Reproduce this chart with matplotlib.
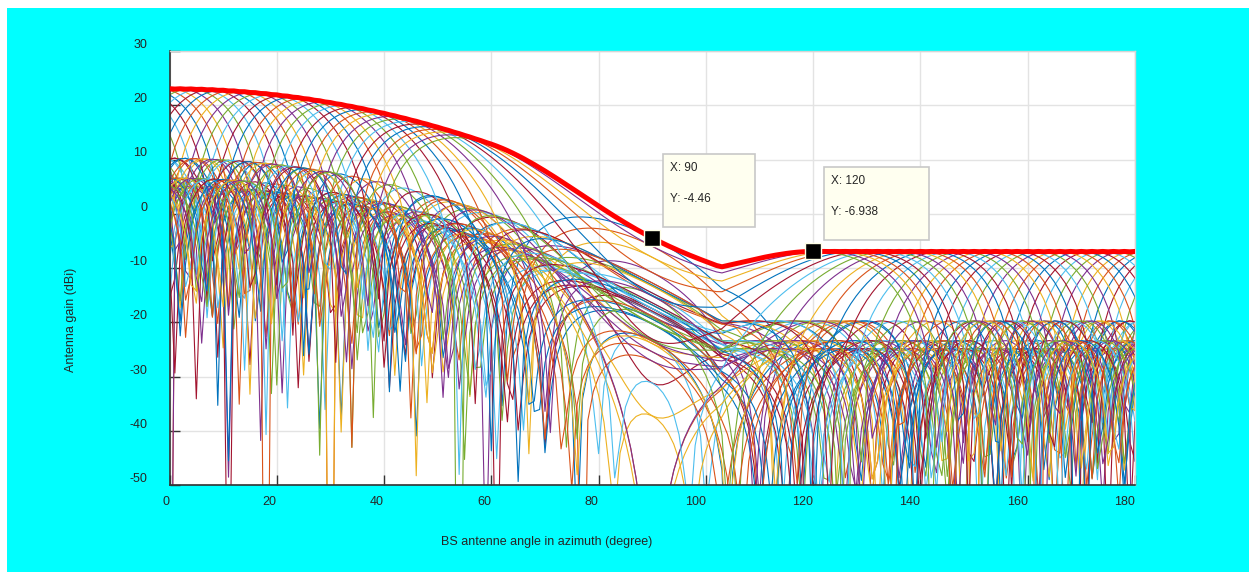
import numpy as np
import matplotlib
matplotlib.use("Agg")
import matplotlib.pyplot as plt
from matplotlib.patches import Rectangle

plt.rcParams['font.family'] = ['Liberation Sans', 'DejaVu Sans']
plt.rcParams['axes.unicode_minus'] = False

# ---------------- data / parameters ----------------
azimuth_deg = np.arange(0, 181, 1)              # sampled azimuth angles
steer_deg = list(range(-60, 61, 2))            # beam steering angles
n_horizontal = 8                               # elements in a row
n_total = 32                                   # total elements in panel
elem_gmax = 8.0                                # element max gain (dBi)
elem_hpbw = 65.0                               # element 3 dB beamwidth (deg)
elem_amax = 30.0                               # front-to-back attenuation (dB)

tip_x = [90, 120]
tip_y = [-4.46, -6.938]
tip_text_x = ["X: 90", "X: 120"]
tip_text_y = ["Y: -4.46", "Y: -6.938"]

x_ticks = [0, 20, 40, 60, 80, 100, 120, 140, 160, 180]
y_ticks = [-50, -40, -30, -20, -10, 0, 10, 20, 30]
x_label = "BS antenne angle in azimuth (degree)"
y_label = "Antenna gain (dBi)"

# ---------------- patterns ----------------
az = np.asarray(azimuth_deg, dtype=float)
elem = elem_gmax - np.minimum(12.0 * (az / elem_hpbw) ** 2, elem_amax)
array_gain = 10 * np.log10(n_total)
patterns = []
for s in steer_deg:
    psi = np.pi * (np.sin(np.radians(az)) - np.sin(np.radians(s)))
    num = np.sin(n_horizontal * psi / 2)
    den = n_horizontal * np.sin(psi / 2)
    with np.errstate(divide='ignore', invalid='ignore'):
        af = np.where(np.abs(den) < 1e-12, 1.0, num / den)
    g = elem + array_gain + 20 * np.log10(np.abs(af) + 1e-9)
    patterns.append(np.maximum(g, -120))
patterns = np.array(patterns)
envelope = patterns.max(axis=0)

# ---------------- figure ----------------
W, H = 1249, 572
fig = plt.figure(figsize=(W / 100, H / 100), dpi=100)
fig.patch.set_facecolor('white')
fig.patches.append(Rectangle((7 / W, 0), 1 - 7 / W, (H - 8) / H,
                             transform=fig.transFigure, facecolor='#00FFFF',
                             edgecolor='none', zorder=-10))

ax_l, ax_r, ax_t, ax_b = 169.5, 1135.0, 51.0, 485.0
ax = fig.add_axes([ax_l / W, 1 - ax_b / H, (ax_r - ax_l) / W, (ax_b - ax_t) / H])
ax.set_facecolor('white')

colors = ['#0072BD', '#D95319', '#EDB120', '#7E2F8E', '#77AC30', '#4DBEEE', '#A2142F']
for i, g in enumerate(patterns):
    ax.plot(az, g, color=colors[i % len(colors)], lw=0.8, zorder=2)

ax.plot(az, envelope, color='#FF0000', lw=3.6, zorder=5, solid_joinstyle='round')
ax.plot(tip_x, tip_y, 's', ms=11.5, mfc='black', mec='#FFFFE6', mew=1.0, zorder=6)

ax.set_xlim(0, 180)
ax.set_ylim(-50, 30)
ax.set_xticks(x_ticks)
ax.set_yticks(y_ticks)
ax.grid(True, color='#e3e3e3', lw=1.0, zorder=0)
ax.set_axisbelow(True)

ax.tick_params(axis='both', direction='in', length=7, width=1.0, color='#333333',
               labelsize=9, labelcolor='#262626')
ax.tick_params(axis='x', pad=8)
ax.tick_params(axis='y', pad=16)
for lbl in ax.get_xticklabels():
    lbl.set_ha('right')
for lbl in ax.get_yticklabels():
    lbl.set_va('bottom')

for side in ('left', 'bottom'):
    ax.spines[side].set_color('#333333')
    ax.spines[side].set_linewidth(1.2)
for side in ('top', 'right'):
    ax.spines[side].set_color('#d5d5d5')
    ax.spines[side].set_linewidth(1.0)

fig.text(71 / W, 1 - 320 / H, y_label, rotation=90, ha='center', va='center',
         fontsize=9, color='#262626')
fig.text(546.5 / W, 1 - 541.7 / H, x_label, ha='center', va='center',
         fontsize=9, color='#262626')

# ---------------- data tips ----------------
fig.canvas.draw()
box_w = [92, 105]
box_h = 73
for k in range(len(tip_x)):
    px, py = ax.transData.transform((tip_x[k], tip_y[k]))
    bx, by = px + 11, py + 11
    fig.patches.append(Rectangle((bx / W, by / H), box_w[k] / W, box_h / H,
                                 transform=fig.transFigure, facecolor='#FFFFF0',
                                 edgecolor='#c8c8c8', lw=1.2, zorder=7))
    fig.text((px + 18) / W, (py + 70) / H, tip_text_x[k], ha='left', va='center',
             fontsize=8.5, color='#262626', zorder=8)
    fig.text((px + 18) / W, (py + 39) / H, tip_text_y[k], ha='left', va='center',
             fontsize=8.5, color='#262626', zorder=8)

fig.savefig('out.png', dpi=100, facecolor=fig.get_facecolor())
